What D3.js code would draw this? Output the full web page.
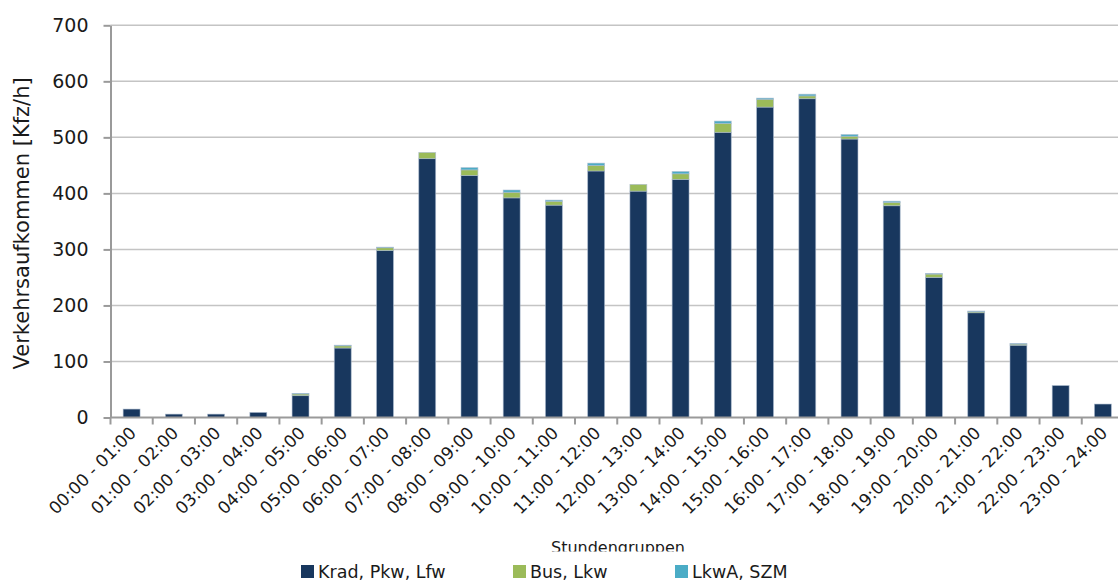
<!DOCTYPE html>
<html>
<head>
<meta charset="utf-8">
<script src="https://cdn.jsdelivr.net/npm/d3@7"></script>
<style>
  html, body { margin: 0; padding: 0; background: #ffffff; }
  svg { display: block; font-family: "DejaVu Sans", sans-serif; }
</style>
</head>
<body>
<svg id="chart" width="1118" height="585"></svg>
<script>
// Hourly traffic volume by vehicle group
const categories = [
  "00:00 - 01:00", "01:00 - 02:00", "02:00 - 03:00", "03:00 - 04:00",
  "04:00 - 05:00", "05:00 - 06:00", "06:00 - 07:00", "07:00 - 08:00",
  "08:00 - 09:00", "09:00 - 10:00", "10:00 - 11:00", "11:00 - 12:00",
  "12:00 - 13:00", "13:00 - 14:00", "14:00 - 15:00", "15:00 - 16:00",
  "16:00 - 17:00", "17:00 - 18:00", "18:00 - 19:00", "19:00 - 20:00",
  "20:00 - 21:00", "21:00 - 22:00", "22:00 - 23:00", "23:00 - 24:00"
];
const kradPkwLfw = [15, 6, 6, 9, 39, 124, 298, 462, 432, 392, 379, 440, 404, 425, 509, 554, 569, 497, 378, 250, 187, 129, 57, 24];
const busLkw     = [0, 0, 0, 0, 3, 4, 5, 11, 10, 10, 7, 10, 12, 10, 16, 14, 5, 5, 6, 6, 2, 2, 0, 0];
const lkwaSzm    = [0, 0, 0, 0, 1, 1, 1, 0, 4, 4, 2, 4, 0, 4, 4, 2, 3, 3, 2, 1, 1, 1, 0, 0];
const seriesNames = ["Krad, Pkw, Lfw", "Bus, Lkw", "LkwA, SZM"];
const seriesColors = ["#18375e", "#9bbb59", "#4bacc6"];
const yTicks = [0, 100, 200, 300, 400, 500, 600, 700];
const yTitle = "Verkehrsaufkommen [Kfz/h]";
const xTitle = "Stundengruppen";

const svg = d3.select("#chart");

const plot = { left: 110.5, right: 1124, top: 25.3, bottom: 417.5 };

const x = d3.scaleBand()
  .domain(categories)
  .range([plot.left, plot.right])
  .paddingInner(0.6)
  .paddingOuter(0.3);

const y = d3.scaleLinear()
  .domain([0, 700])
  .range([plot.bottom, plot.top]);

// Gridlines
svg.append("g")
  .selectAll("line")
  .data(yTicks.filter(d => d > 0))
  .join("line")
  .attr("x1", plot.left)
  .attr("x2", 1118)
  .attr("y1", d => y(d))
  .attr("y2", d => y(d))
  .attr("stroke", "#c4c4c4")
  .attr("stroke-width", 1.5);

// Stacked bars
const rows = categories.map((c, i) => ({
  cat: c,
  s0: kradPkwLfw[i],
  s1: busLkw[i],
  s2: lkwaSzm[i]
}));
const stack = d3.stack().keys(["s0", "s1", "s2"])(rows);

svg.append("g")
  .selectAll("g")
  .data(stack)
  .join("g")
  .attr("fill", (d, i) => seriesColors[i])
  .selectAll("rect")
  .data(d => d.filter(p => p[1] - p[0] > 0))
  .join("rect")
  .attr("x", d => x(d.data.cat))
  .attr("width", x.bandwidth())
  .attr("y", d => y(d[1]))
  .attr("height", d => y(d[0]) - y(d[1]))
  .attr("stroke", "rgba(170,185,205,0.7)")
  .attr("stroke-width", 0.8);

// Y axis
const yAxis = svg.append("g")
  .attr("transform", `translate(${plot.left},0)`)
  .call(d3.axisLeft(y).tickValues(yTicks).tickSize(7).tickPadding(15).tickSizeOuter(0));
yAxis.select(".domain").attr("stroke", "#9a9a9a").attr("stroke-width", 2);
yAxis.selectAll(".tick line").attr("stroke", "#9a9a9a").attr("stroke-width", 2);
yAxis.selectAll(".tick text")
  .attr("font-family", "DejaVu Sans, sans-serif")
  .attr("font-size", 19)
  .attr("fill", "#1a1a1a");

// X axis line and ticks at band boundaries
const step = x.step();
const boundaries = d3.range(categories.length + 1).map(i => plot.left + i * step);
svg.append("line")
  .attr("x1", plot.left).attr("x2", 1118)
  .attr("y1", plot.bottom).attr("y2", plot.bottom)
  .attr("stroke", "#9a9a9a").attr("stroke-width", 2);
svg.append("g")
  .selectAll("line")
  .data(boundaries)
  .join("line")
  .attr("x1", d => d).attr("x2", d => d)
  .attr("y1", plot.bottom).attr("y2", plot.bottom + 7)
  .attr("stroke", "#9a9a9a").attr("stroke-width", 2);

// Rotated category labels
svg.append("g")
  .selectAll("text")
  .data(categories)
  .join("text")
  .attr("transform", d => `translate(${x(d) + x.bandwidth() / 2 - 3},${plot.bottom + 8}) rotate(-45)`)
  .attr("text-anchor", "end")
  .attr("dy", "0.71em")
  .attr("font-size", 17)
  .attr("fill", "#1a1a1a")
  .text(d => d);

// Y axis title
svg.append("text")
  .attr("transform", `translate(29,${(plot.top + plot.bottom) / 2 + 2}) rotate(-90)`)
  .attr("text-anchor", "middle")
  .attr("font-size", 21)
  .attr("fill", "#1a1a1a")
  .text(yTitle);

// X axis title (partly covered by the legend strip)
svg.append("text")
  .attr("x", 618)
  .attr("y", 553)
  .attr("text-anchor", "middle")
  .attr("font-size", 16)
  .attr("fill", "#1a1a1a")
  .text(xTitle);

svg.append("rect")
  .attr("x", 0).attr("y", 551.5)
  .attr("width", 1118).attr("height", 40)
  .attr("fill", "#ffffff");

// Legend
const legendX = [301, 513, 675];
const legend = svg.append("g")
  .selectAll("g")
  .data(seriesNames)
  .join("g")
  .attr("transform", (d, i) => `translate(${legendX[i]},565)`);
legend.append("rect")
  .attr("width", 13).attr("height", 13)
  .attr("fill", (d, i) => seriesColors[i]);
legend.append("text")
  .attr("x", 17)
  .attr("y", 13)
  .attr("font-size", 17.5)
  .attr("fill", "#1a1a1a")
  .text(d => d);
</script>
</body>
</html>
